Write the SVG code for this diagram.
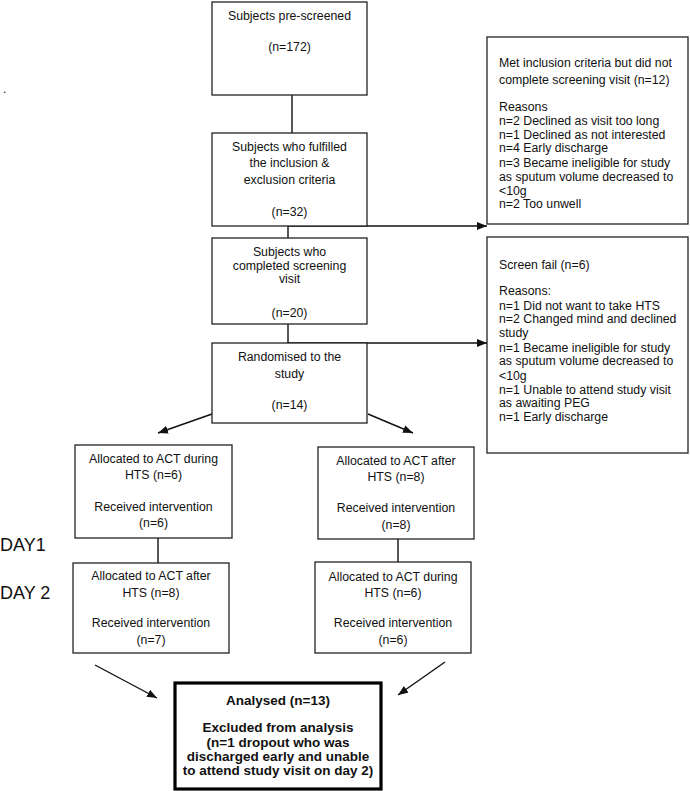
<svg xmlns="http://www.w3.org/2000/svg" width="690" height="791" viewBox="0 0 690 791">
<style>
rect.b{fill:#fff;stroke:#222;stroke-width:1.3}
rect.k{fill:#fff;stroke:#000;stroke-width:3.2}
text{font-family:"Liberation Sans",Arial,sans-serif;font-size:12.3px;fill:#111}
.c{text-anchor:middle}
.bd{font-weight:bold;font-size:13.5px}
.day{font-size:18px}
line{stroke:#111;stroke-width:1.4}
</style>
<defs>
<marker id="ah" viewBox="0 0 10 8" refX="10" refY="4" markerWidth="10" markerHeight="8" markerUnits="userSpaceOnUse" orient="auto">
<path d="M0,0 L10,4 L0,8 Z" fill="#111"/>
</marker>
</defs>
<rect width="690" height="791" fill="#fff"/>
<text x="3" y="93">.</text>
<g id="connectors">
<line x1="292" y1="95" x2="292" y2="133"/>
<line x1="288" y1="226" x2="288" y2="238"/>
<line x1="288" y1="226" x2="487" y2="226" marker-end="url(#ah)"/>
<line x1="288" y1="324" x2="288" y2="343"/>
<line x1="288" y1="343" x2="487" y2="343" marker-end="url(#ah)"/>
<line x1="212" y1="414" x2="158" y2="433" marker-end="url(#ah)"/>
<line x1="368" y1="414" x2="413" y2="433" marker-end="url(#ah)"/>
<line x1="158" y1="538" x2="158" y2="563"/>
<line x1="398" y1="539" x2="398" y2="562"/>
<line x1="95" y1="665" x2="157" y2="698" marker-end="url(#ah)"/>
<line x1="445" y1="662" x2="398" y2="695" marker-end="url(#ah)"/>
</g>
<g id="n1">
<rect class="b" x="212" y="2" width="155" height="93"/>
<text class="c" x="289.5" y="20">Subjects pre-screened</text>
<text class="c" x="289.5" y="51">(n=172)</text>
</g>
<g id="n2">
<rect class="b" x="212" y="133" width="155" height="93"/>
<text class="c" x="289.5" y="151">Subjects who fulfilled</text>
<text class="c" x="289.5" y="167">the inclusion &amp;</text>
<text class="c" x="289.5" y="184">exclusion criteria</text>
<text class="c" x="289.5" y="216">(n=32)</text>
</g>
<g id="n3">
<rect class="b" x="212" y="238" width="155" height="86"/>
<text class="c" x="289.5" y="256">Subjects who</text>
<text class="c" x="289.5" y="270">completed screening</text>
<text class="c" x="289.5" y="283">visit</text>
<text class="c" x="289.5" y="317">(n=20)</text>
</g>
<g id="n4">
<rect class="b" x="212" y="343" width="155" height="80"/>
<text class="c" x="289.5" y="361">Randomised to the</text>
<text class="c" x="289.5" y="378">study</text>
<text class="c" x="289.5" y="409">(n=14)</text>
</g>
<g id="ra">
<rect class="b" x="487" y="37" width="201" height="187"/>
<text x="499" y="67">Met inclusion criteria but did not</text>
<text x="499" y="84">complete screening visit (n=12)</text>
<text x="499" y="111">Reasons</text>
<text x="499" y="125">n=2 Declined as visit too long</text>
<text x="499" y="139">n=1 Declined as not interested</text>
<text x="499" y="152">n=4 Early discharge</text>
<text x="499" y="167">n=3 Became ineligible for study</text>
<text x="499" y="181">as sputum volume decreased to</text>
<text x="499" y="195">&lt;10g</text>
<text x="499" y="208">n=2 Too unwell</text>
</g>
<g id="rb">
<rect class="b" x="487" y="237" width="201" height="216"/>
<text x="499" y="269">Screen fail (n=6)</text>
<text x="499" y="295">Reasons:</text>
<text x="499" y="310">n=1 Did not want to take HTS</text>
<text x="499" y="323">n=2 Changed mind and declined</text>
<text x="499" y="337">study</text>
<text x="499" y="352">n=1 Became ineligible for study</text>
<text x="499" y="365">as sputum volume decreased to</text>
<text x="499" y="380">&lt;10g</text>
<text x="499" y="394">n=1 Unable to attend study visit</text>
<text x="499" y="407">as awaiting PEG</text>
<text x="499" y="421">n=1 Early discharge</text>
</g>
<g id="l1">
<rect class="b" x="75" y="445" width="157" height="93"/>
<text class="c" x="153.5" y="463">Allocated to ACT during</text>
<text class="c" x="153.5" y="479">HTS (n=6)</text>
<text class="c" x="153.5" y="511">Received intervention</text>
<text class="c" x="153.5" y="527">(n=6)</text>
</g>
<g id="l2">
<rect class="b" x="73" y="563" width="156" height="90"/>
<text class="c" x="151" y="580">Allocated to ACT after</text>
<text class="c" x="151" y="597">HTS (n=8)</text>
<text class="c" x="151" y="627">Received intervention</text>
<text class="c" x="151" y="644">(n=7)</text>
</g>
<g id="r1">
<rect class="b" x="318" y="447" width="156" height="92"/>
<text class="c" x="396" y="465">Allocated to ACT after</text>
<text class="c" x="396" y="481">HTS (n=8)</text>
<text class="c" x="396" y="512">Received intervention</text>
<text class="c" x="396" y="529">(n=8)</text>
</g>
<g id="r2">
<rect class="b" x="315" y="562" width="156" height="91"/>
<text class="c" x="393" y="581">Allocated to ACT during</text>
<text class="c" x="393" y="597">HTS (n=6)</text>
<text class="c" x="393" y="627">Received intervention</text>
<text class="c" x="393" y="644">(n=6)</text>
</g>
<g id="day1"><text class="day" x="0" y="551">DAY1</text></g>
<g id="day2"><text class="day" x="0" y="598.5">DAY 2</text></g>
<g id="final">
<rect class="k" x="175" y="683" width="206" height="106"/>
<text class="c bd" x="278" y="705">Analysed (n=13)</text>
<text class="c bd" x="278" y="732">Excluded from analysis</text>
<text class="c bd" x="278" y="747">(n=1 dropout who was</text>
<text class="c bd" x="278" y="761">discharged early and unable</text>
<text class="c bd" x="278" y="775">to attend study visit on day 2)</text>
</g>
</svg>
